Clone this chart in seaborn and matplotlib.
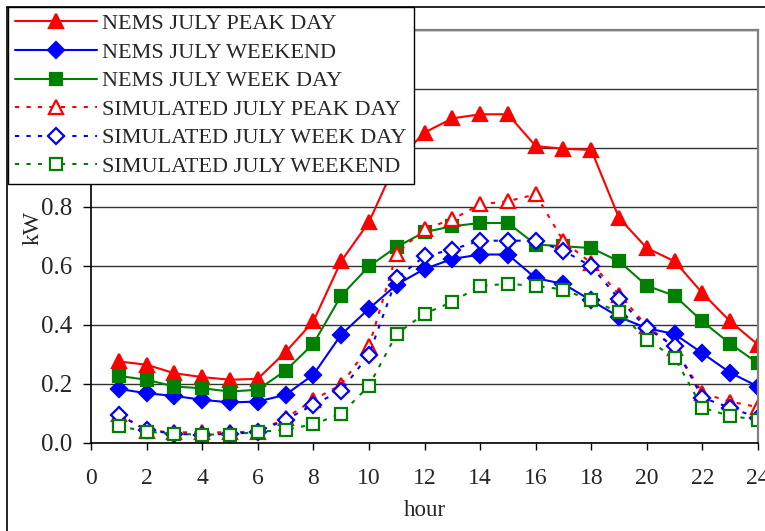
import numpy as np
import pandas as pd
import seaborn as sns
import matplotlib.pyplot as plt
from matplotlib.lines import Line2D

# hourly load values (kW)
hours = list(range(1, 25))

nems_peak = [0.275, 0.264, 0.235, 0.222, 0.213, 0.216, 0.307, 0.411, 0.615, 0.748, 0.955, 1.052,
             1.100, 1.114, 1.114, 1.006, 0.997, 0.993, 0.762, 0.660, 0.615, 0.507, 0.411, 0.332]
nems_weekend = [0.182, 0.167, 0.158, 0.145, 0.136, 0.139, 0.162, 0.230, 0.366, 0.454, 0.536, 0.589,
                0.623, 0.638, 0.638, 0.558, 0.538, 0.482, 0.426, 0.388, 0.368, 0.303, 0.237, 0.190]
nems_weekday = [0.226, 0.213, 0.190, 0.184, 0.173, 0.179, 0.244, 0.335, 0.498, 0.598, 0.664, 0.714,
                0.734, 0.745, 0.745, 0.672, 0.666, 0.660, 0.615, 0.532, 0.498, 0.411, 0.335, 0.269]
sim_peak = [0.097, 0.040, 0.035, 0.034, 0.035, 0.037, 0.082, 0.145, 0.196, 0.326, 0.641, 0.725,
            0.757, 0.808, 0.819, 0.842, 0.683, 0.609, 0.502, 0.396, 0.322, 0.167, 0.139, 0.120]
sim_weekday = [0.094, 0.043, 0.029, 0.027, 0.029, 0.036, 0.077, 0.128, 0.176, 0.298, 0.558, 0.632,
               0.655, 0.685, 0.685, 0.685, 0.651, 0.598, 0.487, 0.388, 0.326, 0.152, 0.118, 0.084]
sim_weekend = [0.056, 0.037, 0.029, 0.027, 0.027, 0.036, 0.043, 0.062, 0.097, 0.192, 0.369, 0.437,
               0.477, 0.532, 0.538, 0.532, 0.519, 0.482, 0.443, 0.349, 0.288, 0.118, 0.090, 0.077]

labels = ['NEMS JULY PEAK DAY', 'NEMS JULY WEEKEND', 'NEMS JULY WEEK DAY',
          'SIMULATED JULY PEAK DAY', 'SIMULATED JULY WEEK DAY', 'SIMULATED JULY WEEKEND']

RED, BLUE, GREEN = '#ff0000', '#0000ff', '#008000'

sns.set_style('white')
plt.rcParams['font.family'] = ['Liberation Serif', 'DejaVu Serif']

fig = plt.figure(figsize=(7.65, 5.31), dpi=100)
ax = fig.add_axes([91 / 765, 1 - 442.5 / 531, 667 / 765, 412.5 / 531])

# series: values, label, color, marker, markersize, filled, solid
series = [
    (nems_peak, labels[0], RED, '^', 10.5, True, True),
    (nems_weekend, labels[1], BLUE, 'D', 8, True, True),
    (nems_weekday, labels[2], GREEN, 's', 8.5, True, True),
    (sim_peak, labels[3], RED, '^', 10.5, False, False),
    (sim_weekday, labels[4], BLUE, 'D', 8, False, False),
    (sim_weekend, labels[5], GREEN, 's', 8.5, False, False),
]

handles = []
for vals, lab, col, mk, ms, filled, solid in series:
    df = pd.DataFrame({'hour': hours, 'kW': vals})
    ls = '-' if solid else (0, (2, 3.5))
    mfc = col if filled else 'white'
    sns.lineplot(data=df, x='hour', y='kW', ax=ax, color=col, marker=mk, markersize=ms,
                 markerfacecolor=mfc, markeredgecolor=col, markeredgewidth=1.6,
                 linestyle=ls, linewidth=1.5, label=lab, legend=False)
    handles.append(Line2D([], [], color=col, marker=mk, markersize=ms, markerfacecolor=mfc,
                          markeredgecolor=col, markeredgewidth=1.6, linestyle=ls, linewidth=1.5,
                          label=lab))

ax.set_xlim(0, 24)
ax.set_ylim(0, 1.4)
ax.set_xticks(np.arange(0, 25, 2))
ax.set_yticks(np.arange(0, 1.41, 0.2))
ax.set_yticklabels([f'{v:.1f}' for v in np.arange(0, 1.41, 0.2)])
ax.tick_params(axis='x', labelsize=17, direction='out', length=5, width=1, color='black',
               bottom=True, pad=13.5)
ax.tick_params(axis='y', labelsize=18, direction='out', length=5.5, width=1, color='black',
               left=True, pad=8)
ax.yaxis.grid(True, color='#333333', linewidth=1)
ax.set_axisbelow(True)

for s in ['left', 'bottom']:
    ax.spines[s].set_color('black')
    ax.spines[s].set_linewidth(1.2)
for s in ['top', 'right']:
    ax.spines[s].set_color('#808080')
    ax.spines[s].set_linewidth(1.6)

ax.set_xlabel('hour', fontsize=16.5)
ax.xaxis.set_label_coords(0.5, -0.14)
ax.set_ylabel('kW', fontsize=17, va='center', ha='center')
ax.yaxis.set_label_coords(-0.087, 0.521)

# outer chart frame
fig.add_artist(Line2D([7 / 765, 1], [1 - 7 / 531] * 2, color='black', linewidth=1.2))
fig.add_artist(Line2D([7 / 765] * 2, [0, 1 - 7 / 531], color='black', linewidth=1.2))

leg = fig.legend(handles=handles, loc='upper left', bbox_to_anchor=(8 / 765, 1 - 7 / 531),
                 borderaxespad=0, fontsize=16, frameon=True, fancybox=False, framealpha=1,
                 edgecolor='black', handlelength=3.7, handletextpad=0.25, labelspacing=0.36,
                 borderpad=0.3)
leg.get_frame().set_linewidth(1.0)

fig.savefig('out.png', dpi=100)
